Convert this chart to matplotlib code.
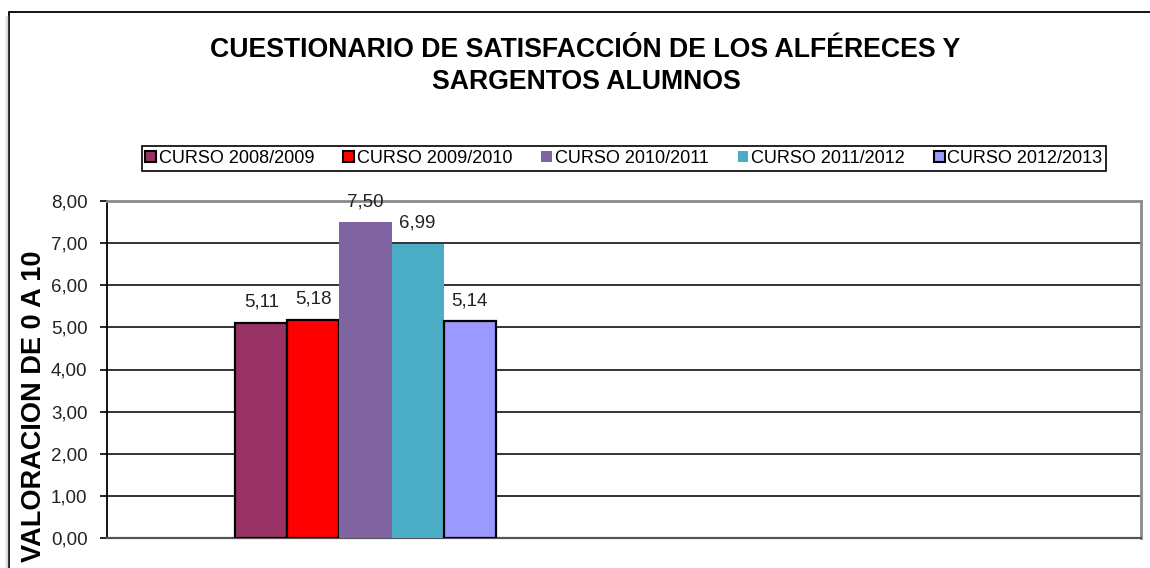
import matplotlib.pyplot as plt
from matplotlib.patches import Rectangle, Patch
from matplotlib.lines import Line2D

plt.rcParams['font.family'] = ['Liberation Sans', 'DejaVu Sans']

# datos
cursos = ['CURSO 2008/2009', 'CURSO 2009/2010', 'CURSO 2010/2011',
          'CURSO 2011/2012', 'CURSO 2012/2013']
valores = [5.11, 5.18, 7.50, 6.99, 5.14]
colores = ['#993366', '#FF0000', '#8064A2', '#4BACC6', '#9999FF']
con_borde = [True, True, False, False, True]
yticks = [0, 1, 2, 3, 4, 5, 6, 7, 8]

W, H = 1150, 568
fig = plt.figure(figsize=(W / 100, H / 100), dpi=100)
fig.patch.set_facecolor('white')

# marco exterior del grafico con sombra a la izquierda
for i, a in enumerate([0.08, 0.15, 0.25, 0.35]):
    fig.add_artist(Line2D([(5 + i) / W] * 2, [0, 1 - 16 / H], transform=fig.transFigure,
                          color='gray', alpha=a, lw=1))
fig.add_artist(Rectangle((9 / W, -0.1), 1.2, 1.1 - 12 / H, transform=fig.transFigure,
                         fill=False, edgecolor='black', lw=1.3))

ax = fig.add_axes([107 / W, 1 - 538 / H, (1141 - 107) / W, (538 - 201) / H])

ancho = 0.1006
for i, (v, c, b) in enumerate(zip(valores, colores, con_borde)):
    x = (i - 2) * ancho
    ax.bar(x, v, width=ancho, color=c, edgecolor='black' if b else c,
           linewidth=1.6 if b else 0, zorder=3)
    ax.text(x, v + 0.38, f'{v:.2f}'.replace('.', ','), ha='center', va='baseline',
            fontsize=13.5, color='#222222', zorder=4)

ax.set_xlim(-0.5, 1.5)
ax.set_ylim(0, 8)
ax.set_xticks([])
ax.set_yticks(yticks)
ax.set_yticklabels([f'{t:.2f}'.replace('.', ',') for t in yticks], fontsize=13.5, color='#222222')
ax.tick_params(axis='y', length=5, width=1.2, pad=9, color='black')
ax.grid(axis='y', color='#111111', lw=1.2, zorder=0)
ax.set_axisbelow(True)
for s in ['top', 'right']:
    ax.spines[s].set_color('#8a8a8a')
    ax.spines[s].set_linewidth(2)
ax.spines['bottom'].set_color('#555555')
ax.spines['bottom'].set_linewidth(1.6)
ax.spines['left'].set_color('black')
ax.spines['left'].set_linewidth(1.3)

fig.text(585 / W, 1 - 50 / H, 'CUESTIONARIO DE SATISFACCIÓN DE LOS ALFÉRECES Y',
         ha='center', va='center', fontsize=19.2, weight='bold')
fig.text(586 / W, 1 - 82 / H, 'SARGENTOS ALUMNOS',
         ha='center', va='center', fontsize=19.2, weight='bold')
fig.text(34 / W, 1 - 406 / H, 'VALORACION DE 0 A 10', rotation=90,
         ha='center', va='center', fontsize=19.5, weight='bold')

handles = [Patch(facecolor=c, edgecolor='black' if b else c, lw=1.5 if b else 0)
           for c, b in zip(colores, con_borde)]
leg = fig.legend(handles, cursos, loc='center', bbox_to_anchor=(624 / W, 1 - 158.5 / H),
                 ncol=5, fontsize=13, handlelength=0.6, handleheight=0.6,
                 handletextpad=0.15, columnspacing=1.6, borderpad=0.2,
                 fancybox=False, edgecolor='black', framealpha=1)
leg.get_frame().set_linewidth(1.2)

fig.savefig('out.png', dpi=100)
